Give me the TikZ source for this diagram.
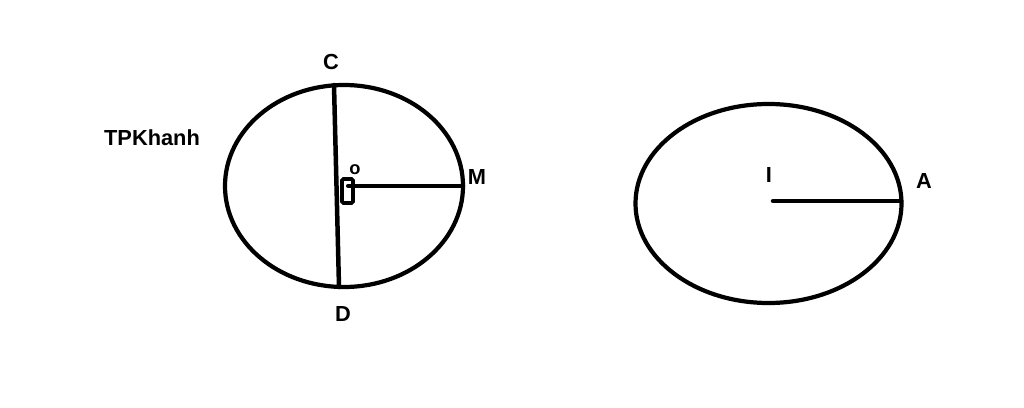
\documentclass[tikz,border=0pt]{standalone}
\usepackage{fontspec}
\setmainfont{Liberation Sans}
\usetikzlibrary{positioning}
\tikzset{
	lbl/.style={font=\bfseries\fontsize{15.5}{18}\selectfont,inner sep=0pt},
	small/.style={font=\bfseries\fontsize{13}{15}\selectfont,inner sep=0pt},
	stroke/.style={line width=3.2pt,line cap=round},
	rim/.style={line width=3pt}
}
\begin{document}
\begin{tikzpicture}[x=0.025cm,y=-0.025cm]
	\useasboundingbox[fill=white] (0,0) rectangle (1024,407);
	% left circle
	\node[coordinate] (o) at (344,186) {};
	\node[coordinate] (c) at (334,85) {};
	\node[coordinate] (d) at (339,287) {};
	\node[coordinate] (m) at (463,186) {};
	\draw[rim] (o) ellipse [x radius=119, y radius=101];
	\draw[stroke] (c) -- (d);
	\draw[stroke] ([xshift=3pt]o) -- (m);
	\draw[line width=2.6pt,rounded corners=1pt] (342,179) rectangle (353,203);
	\node[lbl] (lc) at (331,62) {C};
	\node[lbl] (ld) at (343,314) {D};
	\node[lbl] (lm) at (477,177) {M};
	\node[small] (lo) at (355,170) {o};
	\node[lbl] (name) at (152,138) {TPKhanh};
	% right circle
	\node[coordinate] (i) at (773,201) {};
	\node[coordinate] (a) at (901,201) {};
	\draw[rim] (768.5,203.5) ellipse [x radius=133, y radius=99.5];
	\draw[stroke] (i) -- (a);
	\node[lbl] (li) at (769,175) {I};
	\node[lbl] (la) at (924,181) {A};
\end{tikzpicture}
\end{document}
